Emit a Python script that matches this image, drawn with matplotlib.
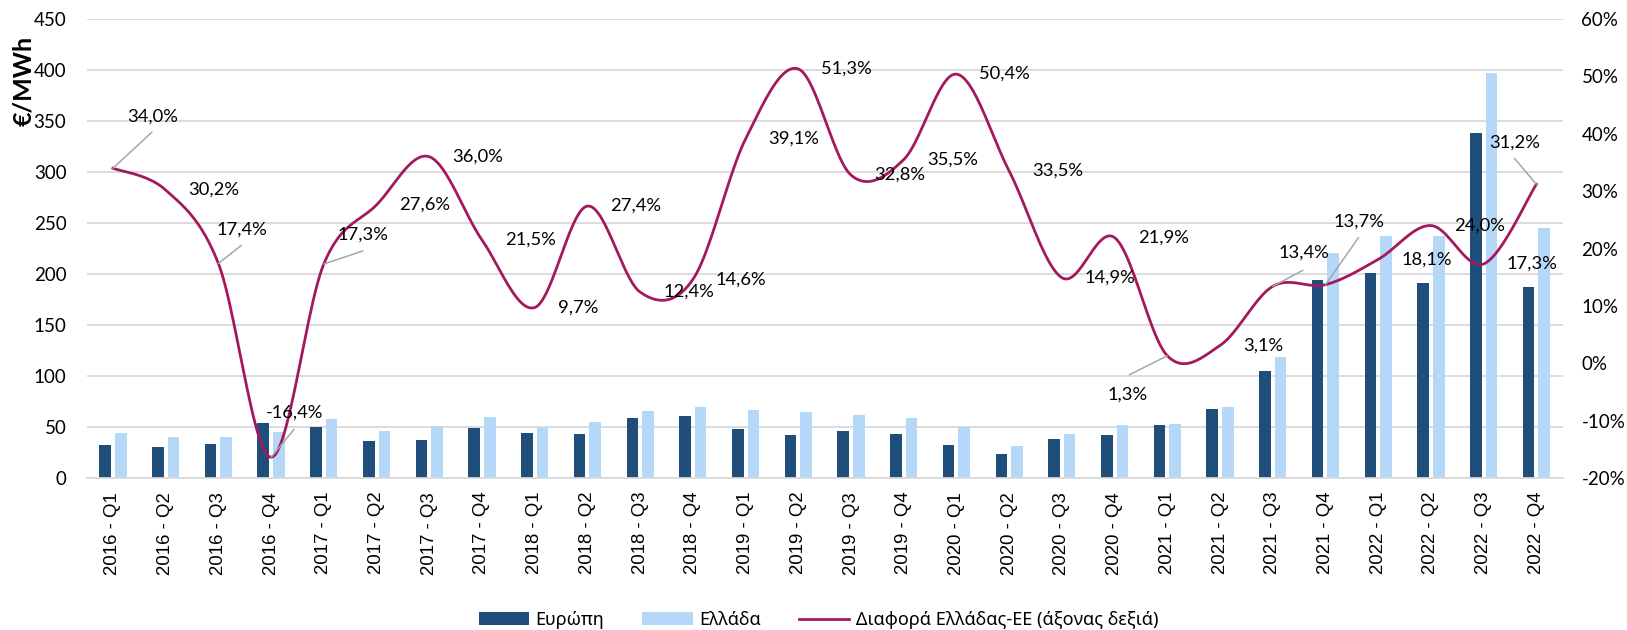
import numpy as np
import matplotlib.pyplot as plt
from matplotlib.ticker import FuncFormatter, MultipleLocator

# quarterly wholesale prices (EUR/MWh) and Greece-EU difference (%)
quarters = ['2016 - Q1', '2016 - Q2', '2016 - Q3', '2016 - Q4',
            '2017 - Q1', '2017 - Q2', '2017 - Q3', '2017 - Q4',
            '2018 - Q1', '2018 - Q2', '2018 - Q3', '2018 - Q4',
            '2019 - Q1', '2019 - Q2', '2019 - Q3', '2019 - Q4',
            '2020 - Q1', '2020 - Q2', '2020 - Q3', '2020 - Q4',
            '2021 - Q1', '2021 - Q2', '2021 - Q3', '2021 - Q4',
            '2022 - Q1', '2022 - Q2', '2022 - Q3', '2022 - Q4']
europe = [32.7, 30.4, 33.7, 54.3, 49.7, 36.4, 37.6, 49.1, 44.5, 43.2,
          58.9, 60.9, 48.1, 42.5, 46.1, 43.2, 32.7, 23.2, 37.9, 42.5,
          52.3, 67.6, 104.9, 193.8, 201.0, 191.2, 338.2, 187.3]
greece = [43.9, 39.9, 39.9, 45.2, 58.2, 46.4, 51.4, 59.9, 49.4, 54.9,
          66.1, 69.7, 67.1, 64.8, 61.6, 58.9, 49.7, 31.4, 43.5, 52.0,
          53.3, 69.9, 119.0, 220.6, 237.6, 236.9, 397.1, 245.4]
diff = [34.0, 30.2, 17.4, -16.4, 17.3, 27.6, 36.0, 21.5, 9.7, 27.4,
        12.4, 14.6, 39.1, 51.3, 32.8, 35.5, 50.4, 33.5, 14.9, 21.9,
        1.3, 3.1, 13.4, 13.7, 18.1, 24.0, 17.3, 31.2]

# labels that sit away from the line: index -> (text offset, leader end) in pixels
leader_labels = {
    0: ((40, 52), (39, 36)),
    2: ((24, 34), (23, 18)),
    3: ((23, 45), (23, 28)),
    4: ((39, 29), (39, 13)),
    20: ((-40, -39), (-38, -19)),
    22: ((31, 34), (30, 16)),
    23: ((33, 63), (33, 47)),
    27: ((-22, 42), (-22, 26)),
}

C_EU = '#1F4E7A'
C_GR = '#B5D7F8'
C_LINE = '#A3195E'
C_GRID = '#D9D9D9'
LABEL_FONT = ['Lato', 'Noto Sans']


def smooth(x, y, n=24):
    # cubic bezier through the points, control points as in catmull-rom
    pts = np.column_stack([x, y]).astype(float)
    P = np.vstack([pts[0], pts, pts[-1]])
    t = np.linspace(0, 1, n, endpoint=False)[:, None]
    out = []
    for k in range(1, len(P) - 2):
        p0, p1, p2, p3 = P[k - 1], P[k], P[k + 1], P[k + 2]
        c1 = p1 + (p2 - p0) / 6
        c2 = p2 - (p3 - p1) / 6
        out.append((1 - t)**3 * p1 + 3 * (1 - t)**2 * t * c1
                   + 3 * (1 - t) * t**2 * c2 + t**3 * p2)
    out.append(pts[-1:])
    return np.vstack(out)


fig = plt.figure(figsize=(16.27, 6.30), dpi=100)
ax = fig.add_axes([0.0532, 0.2413, 0.9073, 0.7285])
ax2 = ax.twinx()

x = np.arange(len(quarters))
w = 0.22
ax.bar(x - 0.148, europe, w, color=C_EU, label='Ευρώπη', zorder=2)
ax.bar(x + 0.148, greece, w, color=C_GR, label='Ελλάδα', zorder=2)

ax.set_xlim(-0.5, len(quarters) - 0.5)
ax.set_ylim(0, 450)
ax.yaxis.set_major_locator(MultipleLocator(50))
ax.grid(axis='y', color=C_GRID, lw=1.3, zorder=0)
ax.set_axisbelow(True)
for s in ['top', 'left', 'right']:
    ax.spines[s].set_visible(False)
    ax2.spines[s].set_visible(False)
ax.spines['bottom'].set_color(C_GRID)
ax.spines['bottom'].set_linewidth(1.3)
ax2.spines['bottom'].set_visible(False)

ax.set_xticks(x)
ax.set_xticklabels(quarters, rotation=90, fontsize=13.4,
                   family='Liberation Sans', color='#000000')
ax.tick_params(axis='x', length=0, pad=10)
ax.tick_params(axis='y', length=0, pad=14.5, labelsize=13.5)
for lb in ax.get_yticklabels():
    lb.set_family(LABEL_FONT)

# difference line on the right axis
curve = smooth(x, diff)
line, = ax2.plot(curve[:, 0], curve[:, 1], color=C_LINE, lw=2.0,
                 label='Διαφορά Ελλάδας-ΕΕ (άξονας δεξιά)', zorder=3)
ax2.set_ylim(-20, 60)
ax2.yaxis.set_major_locator(MultipleLocator(10))
ax2.yaxis.set_major_formatter(FuncFormatter(lambda v, p: f'{v:.0f}%'))
ax2.tick_params(axis='y', length=0, pad=13.5, labelsize=13.5)
for lb in ax2.get_yticklabels():
    lb.set_family(LABEL_FONT)

for i, v in enumerate(diff):
    txt = f'{v:.1f}'.replace('.', ',') + '%'
    if i in leader_labels:
        (tx, ty), (lx, ly) = leader_labels[i]
        ax2.annotate('', xy=(i, v), xytext=(lx, ly), textcoords='offset pixels',
                     arrowprops=dict(arrowstyle='-', color='#A6A6A6', lw=1.1,
                                     shrinkA=0, shrinkB=0), zorder=4)
        ax2.annotate(txt, xy=(i, v), xytext=(tx, ty), textcoords='offset pixels',
                     ha='center', va='center', fontsize=13.2,
                     family=LABEL_FONT, zorder=5)
    else:
        ax2.annotate(txt, xy=(i, v), xytext=(23, 0), textcoords='offset pixels',
                     ha='left', va='center', fontsize=13.2,
                     family=LABEL_FONT, zorder=5)

fig.text(24 / 1627, 1 - 81 / 630, '€/MWh', rotation=90, ha='center',
         va='center', fontsize=18, weight='bold', family=LABEL_FONT)

handles = [ax.containers[0], ax.containers[1], line]
labels = ['Ευρώπη', 'Ελλάδα', 'Διαφορά Ελλάδας-ΕΕ (άξονας δεξιά)']
fig.legend(handles, labels, loc='center', bbox_to_anchor=(0.503, 0.016),
           ncol=3, frameon=False, prop={'family': 'Noto Sans', 'size': 13},
           handlelength=2.8, handleheight=0.7, handletextpad=0.35,
           columnspacing=2.1)

fig.savefig('out.png', dpi=100)
